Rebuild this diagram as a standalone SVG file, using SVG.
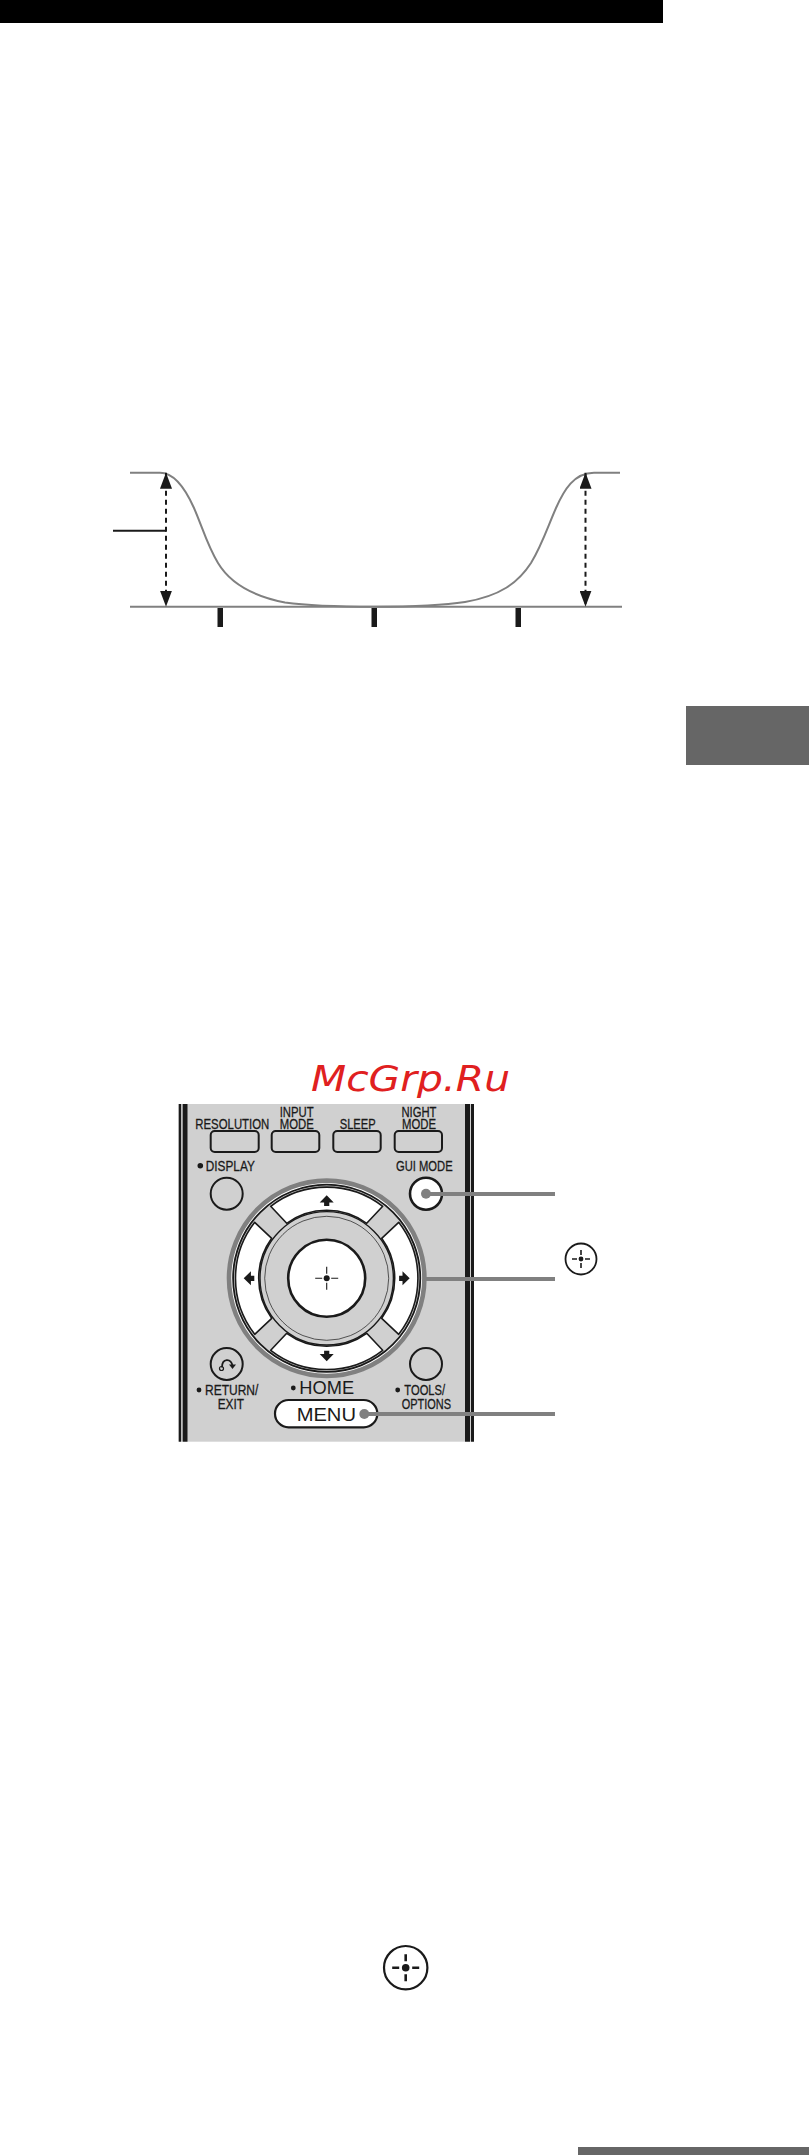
<svg xmlns="http://www.w3.org/2000/svg" width="809" height="2155" viewBox="0 0 809 2155">
<style>
.k{font-family:"Liberation Sans",Arial,sans-serif;font-size:15px;fill:#1a1a1a;text-anchor:middle;stroke:#1a1a1a;stroke-width:.3}
.big{font-family:"Liberation Sans",Arial,sans-serif;font-size:18.5px;fill:#1a1a1a;text-anchor:middle}
.btn{fill:#d0d0d0;stroke:#1a1a1a;stroke-width:2}
.pad{fill:#fff;stroke:#1a1a1a;stroke-width:1.6;stroke-linejoin:round}
.lead{stroke:#808080;stroke-width:4;fill:none}
.curve{stroke:#808080;stroke-width:2;fill:none}
.dim{stroke:#1a1a1a;stroke-width:2;stroke-dasharray:5 4;fill:none;marker-start:url(#a);marker-end:url(#a)}
.bar{fill:#1a1a1a}
</style>
<defs>
<marker id="a" viewBox="0 0 16 12" refX="16" refY="6" markerWidth="16" markerHeight="12" markerUnits="userSpaceOnUse" orient="auto-start-reverse"><path d="M0 0L16 6L0 12Z" fill="#1a1a1a"/></marker>
<g id="cross"><path d="M-11.5 0h7M4.5 0h7M0 -11.5v7M0 4.5v7" stroke="#1a1a1a" stroke-width="1.1"/><circle r="3" fill="#1a1a1a"/></g>
<path id="tri" d="M0 -5L7 2.2H2.6V5.6H-2.6V2.2H-7Z" fill="#1a1a1a"/>
</defs>
<g id="top-bar"><rect width="663" height="23" fill="#000"/></g>
<g id="side-tab"><rect x="686" y="706" width="123" height="59" fill="#666"/></g>
<g id="bottom-bar"><rect x="578" y="2147" width="231" height="8" fill="#666"/></g>

<g id="graph">
<path class="curve" d="M130 606.7H622"/>
<path class="curve" d="M130 472.7H160C175 472.7 186 490 194 508C202 526 207 545 218 563C230 583 252 596 285 602.5C310 606 340 606.7 374 606.7C410 606.7 440 606 465 602C500 596 518 583 531 563C542 545 548 526 556 508C564 490 574 472.7 594 472.7H620"/>
<line class="dim" x1="166" y1="472.7" x2="166" y2="606.7"/>
<line class="dim" x1="585.5" y1="472.7" x2="585.5" y2="606.7"/>
<path d="M113 530.7H166" stroke="#1a1a1a" stroke-width="2"/>
<rect class="bar" x="217.5" y="608" width="5.5" height="19"/>
<rect class="bar" x="371.5" y="608" width="5.5" height="19"/>
<rect class="bar" x="515.5" y="608" width="5.5" height="19"/>
</g>

<g id="watermark"><text x="311" y="1090.7" font-family="'DejaVu Sans',sans-serif" font-style="italic" font-size="36" fill="#e02020" textLength="199" lengthAdjust="spacingAndGlyphs">McGrp.Ru</text></g>

<g id="remote-panel">
<rect x="178.7" y="1104" width="295.3" height="337.7" fill="#d0d0d0"/>
<rect x="178.7" y="1104" width="2.4" height="337.7" fill="#1a1a1a"/>
<rect x="182.7" y="1104" width="4.8" height="337.7" fill="#1a1a1a"/>
<rect x="465" y="1104" width="5" height="337.7" fill="#1a1a1a"/>
<rect x="471" y="1104" width="3" height="337.7" fill="#1a1a1a"/>
</g>

<g id="btn-resolution"><rect class="btn" x="210.7" y="1131" width="48" height="21" rx="4"/><text class="k" x="232.3" y="1128.5" textLength="74" lengthAdjust="spacingAndGlyphs">RESOLUTION</text></g>
<g id="btn-input-mode"><rect class="btn" x="271.7" y="1131" width="47.6" height="21" rx="4"/><text class="k" x="296.7" y="1116.5" textLength="34" lengthAdjust="spacingAndGlyphs">INPUT</text><text class="k" x="296.7" y="1128.5" textLength="34" lengthAdjust="spacingAndGlyphs">MODE</text></g>
<g id="btn-sleep"><rect class="btn" x="333.3" y="1131" width="47.4" height="21" rx="4"/><text class="k" x="357.7" y="1128.5" textLength="36" lengthAdjust="spacingAndGlyphs">SLEEP</text></g>
<g id="btn-night-mode"><rect class="btn" x="394.7" y="1131" width="47.3" height="21" rx="4"/><text class="k" x="419" y="1116.5" textLength="35" lengthAdjust="spacingAndGlyphs">NIGHT</text><text class="k" x="419" y="1128.5" textLength="34" lengthAdjust="spacingAndGlyphs">MODE</text></g>
<g id="btn-display"><circle cx="200.3" cy="1165.7" r="2.8" fill="#1a1a1a"/><text class="k" x="230.3" y="1170.5" textLength="49" lengthAdjust="spacingAndGlyphs">DISPLAY</text><circle class="btn" cx="226.7" cy="1193.7" r="16"/></g>
<g id="btn-gui-mode"><text class="k" x="424.3" y="1170.5" textLength="56.6" lengthAdjust="spacingAndGlyphs">GUI MODE</text><circle cx="426" cy="1193.7" r="16" fill="#fff" stroke="#1a1a1a" stroke-width="2.6"/></g>

<g id="dpad">
<circle cx="326.7" cy="1278.3" r="97.7" fill="#fff" stroke="#808080" stroke-width="4.6"/>
<circle cx="326.7" cy="1278.3" r="93.6" fill="#d0d0d0" stroke="#1a1a1a" stroke-width="1.8"/>
<g transform="translate(326.7 1278.3)">
<path id="pad-up" class="pad" d="M-56 -72A91.2 91.2 0 0 1 56 -72L40 -55A68 68 0 0 0 -40 -55Z"/>
<path class="pad" transform="rotate(90)" d="M-56 -72A91.2 91.2 0 0 1 56 -72L40 -55A68 68 0 0 0 -40 -55Z"/>
<path class="pad" transform="rotate(180)" d="M-56 -72A91.2 91.2 0 0 1 56 -72L40 -55A68 68 0 0 0 -40 -55Z"/>
<path class="pad" transform="rotate(270)" d="M-56 -72A91.2 91.2 0 0 1 56 -72L40 -55A68 68 0 0 0 -40 -55Z"/>
<circle r="66.7" fill="#d0d0d0" stroke="#1a1a1a" stroke-width="1.4"/>
<circle r="62" fill="none" stroke="#1a1a1a" stroke-width=".7"/>
<circle r="38.5" fill="#fff" stroke="#1a1a1a" stroke-width="2.6"/>
<use href="#cross"/>
<use href="#tri" transform="translate(0 -78)"/>
<use href="#tri" transform="translate(0 78) rotate(180)"/>
<use href="#tri" transform="translate(-78 0) rotate(-90)"/>
<use href="#tri" transform="translate(78 0) rotate(90)"/>
</g>
</g>

<g id="btn-return"><circle class="btn" cx="226.7" cy="1364" r="16"/><path d="M222 1367.5C222 1358 231 1358 232.5 1366" fill="none" stroke="#1a1a1a" stroke-width="1.8"/><circle cx="221.5" cy="1368.5" r="2" fill="none" stroke="#1a1a1a" stroke-width="1.2"/><path d="M229 1364.5H236L232.5 1369Z" fill="#1a1a1a"/><circle cx="199" cy="1390" r="2.4" fill="#1a1a1a"/><text class="k" x="231.7" y="1395" textLength="53.3" lengthAdjust="spacingAndGlyphs">RETURN/</text><text class="k" x="230.8" y="1409.3" textLength="26.3" lengthAdjust="spacingAndGlyphs">EXIT</text></g>
<g id="btn-tools"><circle class="btn" cx="426" cy="1364" r="16"/><circle cx="397.7" cy="1390" r="2.4" fill="#1a1a1a"/><text class="k" x="424.7" y="1395" textLength="40.7" lengthAdjust="spacingAndGlyphs">TOOLS/</text><text class="k" x="426.3" y="1409.3" textLength="49.3" lengthAdjust="spacingAndGlyphs">OPTIONS</text></g>
<g id="btn-home"><circle cx="293.3" cy="1388" r="2.4" fill="#1a1a1a"/><text class="big" x="326.7" y="1394.3" textLength="54.7" lengthAdjust="spacingAndGlyphs">HOME</text></g>
<g id="btn-menu"><rect x="275" y="1400" width="102.3" height="27.3" rx="13.6" fill="#fff" stroke="#1a1a1a" stroke-width="2.2"/><text class="big" x="326.3" y="1420.7" textLength="59.3" lengthAdjust="spacingAndGlyphs">MENU</text></g>

<g id="connectors">
<path class="lead" d="M426 1194H555"/>
<path class="lead" d="M426 1279H555"/>
<path class="lead" d="M364.3 1414H555"/>
<circle cx="426" cy="1193.7" r="5" fill="#808080"/>
<circle cx="364.3" cy="1414" r="5" fill="#808080"/>
</g>

<g id="icon-enter-side"><circle cx="581" cy="1259" r="15.5" fill="#fff" stroke="#1a1a1a" stroke-width="1.8"/><g transform="translate(581 1259)"><path d="M-9 0h5M4 0h5M0 -9v5M0 4v5" stroke="#1a1a1a" stroke-width="1.6"/><circle r="2.4" fill="#1a1a1a"/></g></g>
<g id="icon-enter-bottom"><circle cx="405.7" cy="1967.7" r="21.7" fill="#fff" stroke="#1a1a1a" stroke-width="2.2"/><g transform="translate(405.7 1967.7)"><path d="M-13.5 0h7M6.5 0h7M0 -13.5v7M0 6.5v7" stroke="#1a1a1a" stroke-width="2.6"/><circle r="3.8" fill="#1a1a1a"/></g></g>
</svg>
